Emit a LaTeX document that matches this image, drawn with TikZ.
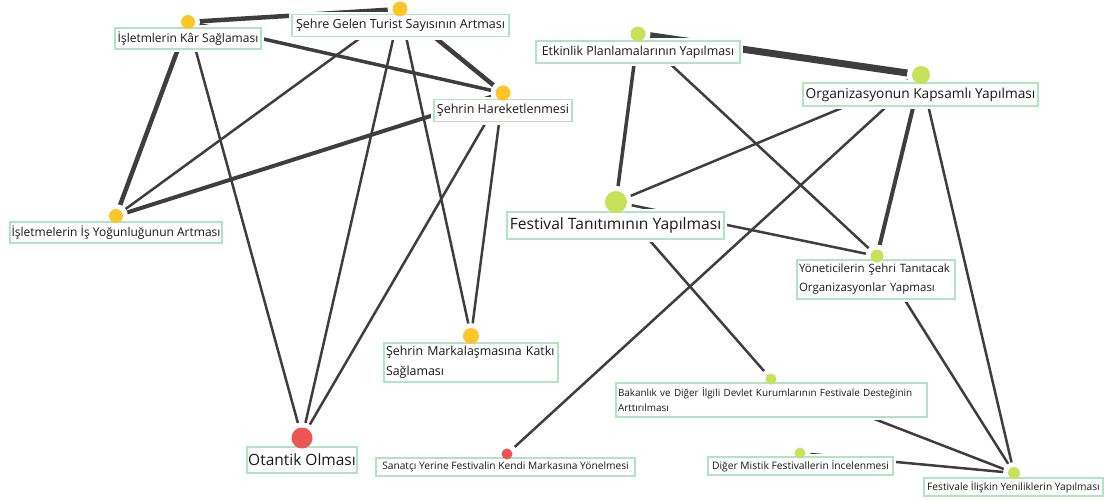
\documentclass[tikz,border=0pt]{standalone}
\usepackage{fontspec}
\setmainfont{Open Sans}
\definecolor{labgreen}{RGB}{178,228,196}
\definecolor{edgegray}{RGB}{62,62,62}
\definecolor{dyellow}{RGB}{255,198,41}
\definecolor{dgreen}{RGB}{200,225,90}
\definecolor{dred}{RGB}{236,85,85}
\tikzset{
  lab/.style={draw=labgreen, line width=1.2pt, fill=white, inner sep=0pt, text=black!90,
    preaction={draw=white, fill=white, line width=6pt}, align=center},
  mlab/.style={lab, inner xsep=2pt, align=left},
  fs/.style={font=\fontsize{#1}{20}\selectfont},
  bub/.style args={#1/#2}{circle, fill=#1, draw=none, inner sep=0pt, minimum size=#2},
  halo/.style={circle, fill=white, draw=none, inner sep=0pt, minimum size=#1},
  link/.style={draw=edgegray, line width=#1},
}
\begin{document}
\begin{tikzpicture}[x=1pt,y=-1pt]
\useasboundingbox (0,0) rectangle (1104,499);
% dot centres
\coordinate (d1) at (188,22);
\coordinate (d2) at (400,9);
\coordinate (d3) at (503,93);
\coordinate (d4) at (116,216);
\coordinate (d5) at (471,336);
\coordinate (d6) at (302,438);
\coordinate (d7) at (638,34);
\coordinate (d8) at (921,75);
\coordinate (d9) at (616,202);
\coordinate (d10) at (877,256);
\coordinate (d11) at (771,379);
\coordinate (d12) at (507,454);
\coordinate (d13) at (800,453);
\coordinate (d14) at (1014,473);
% edges
\draw[link=4.5] (d1) -- (d2);
\draw[link=3.5] (d1) -- (d3);
\draw[link=4.5] (d1) -- (d4);
\draw[link=2.5] (d1) -- (d6);
\draw[link=4.5] (d2) -- (d3);
\draw[link=2.5] (d2) -- (d4);
\draw[link=2.5] (d2) -- (d6);
\draw[link=2.5] (d2) -- (d5);
\draw[link=4] (d3) -- (d4);
\draw[link=2.5] (d3) -- (d6);
\draw[link=2.5] (d3) -- (d5);
\draw[link=7] (d7) -- (d8);
\draw[link=3.5] (d7) -- (d9);
\draw[link=2.5] (d7) -- (d10);
\draw[link=2.5] (d8) -- (d9);
\draw[link=2.5] (d8) -- (d12);
\draw[link=4] (d8) -- (d10);
\draw[link=2.5] (d8) -- (d14);
\draw[link=2.5] (d9) -- (d10);
\draw[link=2.5] (d9) -- (d11);
\draw[link=2.5] (d10) -- (d14);
\draw[link=2.5] (d11) -- (d14);
\draw[link=2.5] (d13) -- (d14);
% halos round dots
\foreach \c/\r in {d1/14, d2/15, d3/15, d4/14, d5/16, d6/21, d7/15, d8/18, d9/22, d10/13, d11/11, d12/11, d13/11, d14/12}
  \node[halo={\r+10}] at (\c) {};
% labels
\node[lab, fs=12, minimum width=146, minimum height=21] (l1) at (188,38.5) {İşletmlerin Kâr Sağlaması};
\node[lab, fs=12.5, minimum width=217, minimum height=22] (l2) at (400.5,25.5) {Şehre Gelen Turist Sayısının Artması};
\node[lab, fs=12.5, minimum width=138, minimum height=22] (l3) at (503,110.5) {Şehrin Hareketlenmesi};
\node[lab, fs=12, minimum width=212, minimum height=21] (l4) at (116,232.5) {İşletmelerin İş Yoğunluğunun Artması};
\node[mlab, font=\fontsize{12.4}{20}\selectfont, text width=170, minimum height=39] (l5) at (471,362.5) {Şehrin Markalaşmasına Katkı\\Sağlaması};
\node[lab, fs=15.5, minimum width=110, minimum height=26] (l6) at (302,460) {Otantik Olması};
\node[lab, fs=12.4, minimum width=204, minimum height=22] (l7) at (638,52) {Etkinlik Planlamalarının Yapılması};
\node[lab, fs=13.7, minimum width=235, minimum height=23] (l8) at (920.5,94.5) {Organizasyonun Kapsamlı Yapılması};
\node[lab, fs=15.6, minimum width=217, minimum height=27] (l9) at (615.5,225.5) {Festival Tanıtımının Yapılması};
\node[mlab, font=\fontsize{11.5}{19}\selectfont, text width=154, minimum height=39] (l10) at (876,279.5) {Yöneticilerin Şehri Tanıtacak\\Organizasyonlar Yapması};
\node[mlab, font=\fontsize{9.9}{15}\selectfont, text width=307, minimum height=34] (l11) at (771.5,400) {\mbox{Bakanlık ve Diğer İlgili Devlet Kurumlarının Festivale Desteğinin}\\Arttırılması};
\node[lab, fs=10.2, minimum width=259, minimum height=18] (l12) at (505.5,467) {Sanatçı Yerine Festivalin Kendi Markasına Yönelmesi};
\node[lab, fs=10.3, minimum width=185, minimum height=18] (l13) at (800.5,466) {Diğer Mistik Festivallerin İncelenmesi};
\node[lab, fs=10.2, minimum width=179, minimum height=18] (l14) at (1013.5,487) {Festivale İlişkin Yeniliklerin Yapılması};
% dots
\node[bub=dyellow/14] (n1) at (d1) {};
\node[bub=dyellow/15] (n2) at (d2) {};
\node[bub=dyellow/15] (n3) at (d3) {};
\node[bub=dyellow/14] (n4) at (d4) {};
\node[bub=dyellow/16] (n5) at (d5) {};
\node[bub=dred/21] (n6) at (d6) {};
\node[bub=dgreen/15] (n7) at (d7) {};
\node[bub=dgreen/18] (n8) at (d8) {};
\node[bub=dgreen/22] (n9) at (d9) {};
\node[bub=dgreen/13] (n10) at (d10) {};
\node[bub=dgreen/11] (n11) at (d11) {};
\node[bub=dred/11] (n12) at (d12) {};
\node[bub=dgreen/11] (n13) at (d13) {};
\node[bub=dgreen/12] (n14) at (d14) {};
\end{tikzpicture}
\end{document}
